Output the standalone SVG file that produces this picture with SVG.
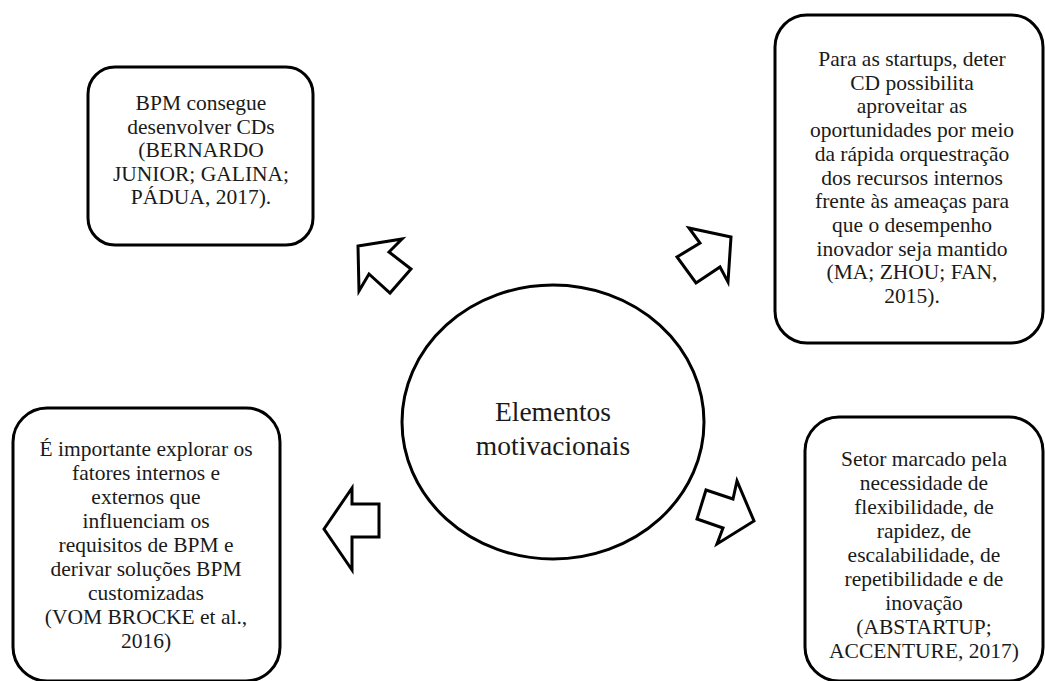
<svg xmlns="http://www.w3.org/2000/svg" width="1045" height="681" viewBox="0 0 1045 681">
  <style>
    .box { fill: #ffffff; stroke: #000000; stroke-width: 3; }
    .arrow { fill: #ffffff; stroke: #000000; stroke-width: 3; stroke-linejoin: miter; }
    text { font-family: 'Liberation Serif', Tinos, 'Times New Roman', 'DejaVu Serif', serif; fill: #1a1a1a; text-anchor: middle; }
    .txt { font-size: 21.5px; }
    .title { font-size: 27.5px; }
  </style>
  <rect width="1045" height="681" fill="#ffffff"/>

  <!-- central ellipse -->
  <g id="center">
    <ellipse class="box" cx="553" cy="422" rx="151" ry="137"/>
    <text class="title" x="553" y="421">Elementos</text>
    <text class="title" x="553" y="455">motivacionais</text>
  </g>

  <!-- block arrows pointing out to each box -->
  <g id="connectors">
    <polygon class="arrow" points="358,246 402,239 389,252 411,269 390,293 369,274 359,291"/>
    <polygon class="arrow" points="689,228 731,237 728,282 720,267 696,283 677,257 700,243"/>
    <polygon class="arrow" points="324,529 352,488 352,504 379,504 379,537 352,537 352,570"/>
    <polygon class="arrow" points="706,490 733,499 737,481 754,521 717,544 723,528 697,519"/>
  </g>

  <g id="box-bpm">
    <rect class="box" x="88" y="67" width="225" height="178" rx="27" ry="27"/>
    <text class="txt" x="201" y="110">BPM consegue</text>
    <text class="txt" x="201" y="133.5">desenvolver CDs</text>
    <text class="txt" x="201" y="157">(BERNARDO</text>
    <text class="txt" x="201" y="180.5">JUNIOR; GALINA;</text>
    <text class="txt" x="201" y="204">PÁDUA, 2017).</text>
  </g>

  <g id="box-startups">
    <rect class="box" x="775" y="15" width="268" height="328" rx="32" ry="32"/>
    <text class="txt" x="912" y="66">Para as startups, deter</text>
    <text class="txt" x="912" y="89.7">CD possibilita</text>
    <text class="txt" x="912" y="113.4">aproveitar as</text>
    <text class="txt" x="912" y="137.1">oportunidades por meio</text>
    <text class="txt" x="912" y="160.8">da rápida orquestração</text>
    <text class="txt" x="912" y="184.5">dos recursos internos</text>
    <text class="txt" x="912" y="208.2">frente às ameaças para</text>
    <text class="txt" x="912" y="231.9">que o desempenho</text>
    <text class="txt" x="912" y="255.6">inovador seja mantido</text>
    <text class="txt" x="912" y="279.3">(MA; ZHOU; FAN,</text>
    <text class="txt" x="912" y="303">2015).</text>
  </g>

  <g id="box-vom-brocke">
    <rect class="box" x="13" y="408" width="267" height="273" rx="34" ry="34"/>
    <text class="txt" x="146" y="456">É importante explorar os</text>
    <text class="txt" x="146" y="480">fatores internos e</text>
    <text class="txt" x="146" y="504">externos que</text>
    <text class="txt" x="146" y="528">influenciam  os</text>
    <text class="txt" x="146" y="552">requisitos de BPM e</text>
    <text class="txt" x="146" y="576">derivar soluções BPM</text>
    <text class="txt" x="146" y="600">customizadas</text>
    <text class="txt" x="146" y="624">(VOM BROCKE et al.,</text>
    <text class="txt" x="146" y="648">2016)</text>
  </g>

  <g id="box-setor">
    <rect class="box" x="805" y="417" width="238" height="264" rx="34" ry="34"/>
    <text class="txt" x="924" y="466">Setor marcado pela</text>
    <text class="txt" x="924" y="490">necessidade de</text>
    <text class="txt" x="924" y="514">flexibilidade,  de</text>
    <text class="txt" x="924" y="538">rapidez, de</text>
    <text class="txt" x="924" y="562">escalabilidade,  de</text>
    <text class="txt" x="924" y="586">repetibilidade  e de</text>
    <text class="txt" x="924" y="610">inovação</text>
    <text class="txt" x="924" y="634">(ABSTARTUP;</text>
    <text class="txt" x="924" y="658">ACCENTURE, 2017)</text>
  </g>
</svg>
